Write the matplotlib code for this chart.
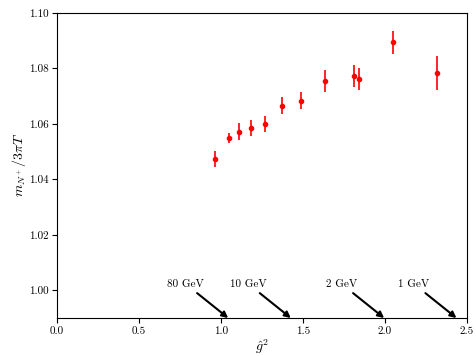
import numpy as np
import matplotlib
matplotlib.use("Agg")
import matplotlib.pyplot as plt

# ================= DATA =================
g2 = [0.963, 1.048, 1.113, 1.184, 1.269, 1.371, 1.487, 1.633, 1.810, 1.840, 2.049, 2.320]
mass = [1.0474, 1.0547, 1.0572, 1.0586, 1.0600, 1.0665, 1.0683, 1.0754, 1.0773, 1.0762, 1.0893, 1.0784]
err = [0.0029, 0.0018, 0.0029, 0.0029, 0.0029, 0.0030, 0.0031, 0.0040, 0.0040, 0.0040, 0.0041, 0.0061]

# energy scale markers along the x axis
scale_labels = ["80 GeV", "10 GeV", "2 GeV", "1 GeV"]
scale_g2 = [1.044, 1.426, 1.995, 2.436]
# ========================================

plt.rcParams['font.family'] = 'serif'
plt.rcParams['font.serif'] = ['cmr10', 'DejaVu Serif']
plt.rcParams['mathtext.fontset'] = 'cm'
plt.rcParams['axes.formatter.use_mathtext'] = True

fig = plt.figure(figsize=(4.76, 3.56), dpi=100)
ax = fig.add_axes([0.1197, 0.1067, 0.8613, 0.8575])

ax.errorbar(g2, mass, yerr=err, fmt='o', color='red', markersize=3,
            elinewidth=1.2, capsize=0)

for lab, x in zip(scale_labels, scale_g2):
    ax.annotate(lab, xy=(x, 0.99), xytext=(x - 0.26, 1.0006),
                ha='center', va='bottom', fontsize=8,
                arrowprops=dict(arrowstyle='-|>', color='black', lw=1.5,
                                shrinkA=2, shrinkB=0, mutation_scale=9))

ax.set_xlim(0, 2.5)
ax.set_ylim(0.99, 1.10)
ax.set_xticks([0.0, 0.5, 1.0, 1.5, 2.0, 2.5])
ax.set_yticks([1.00, 1.02, 1.04, 1.06, 1.08, 1.10])
ax.set_xticklabels(["0.0", "0.5", "1.0", "1.5", "2.0", "2.5"])
ax.set_yticklabels(["1.00", "1.02", "1.04", "1.06", "1.08", "1.10"])
ax.tick_params(labelsize=8, pad=2.5)
ax.set_xlabel(r"$\hat{g}^2$", fontsize=10, labelpad=1)
ax.set_ylabel(r"$m_{N^+}/3\pi T$", fontsize=10, labelpad=1)

fig.savefig("out.png", dpi=100)
